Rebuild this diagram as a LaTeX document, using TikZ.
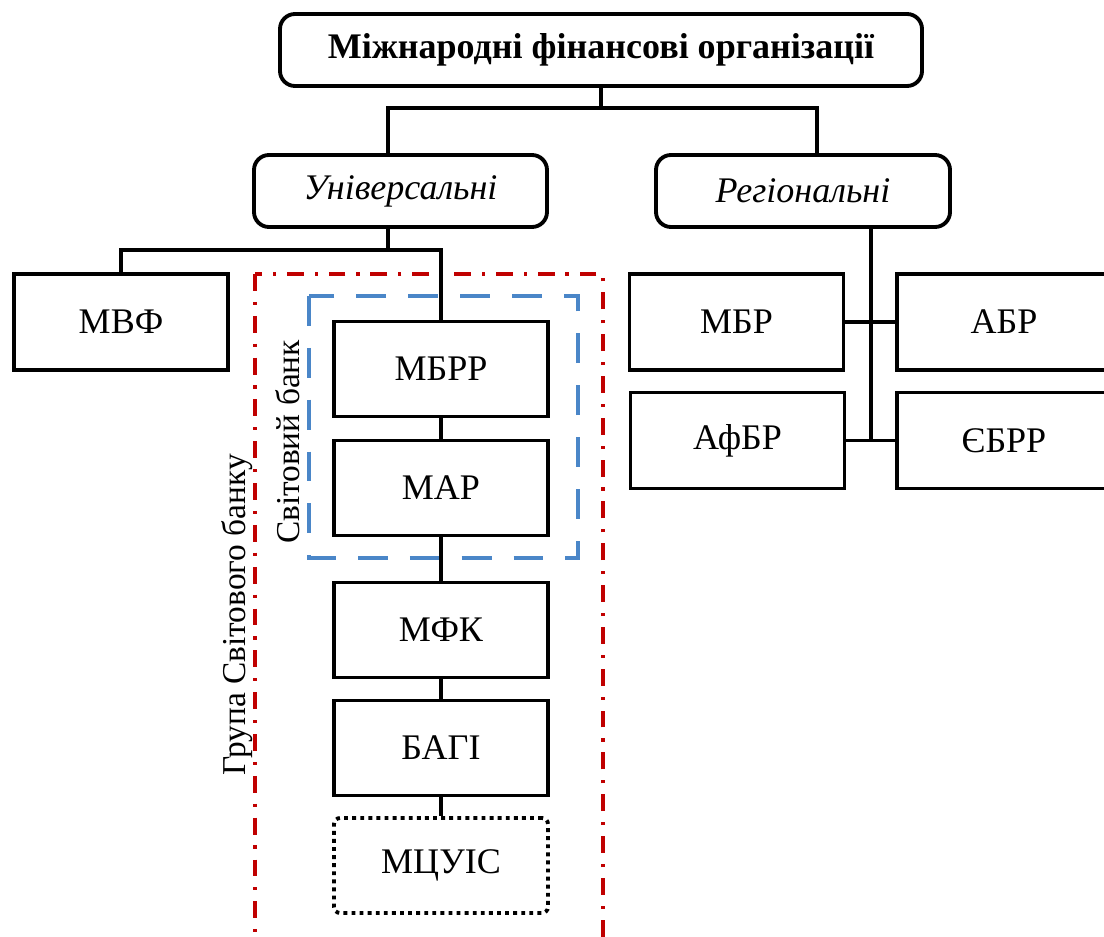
\documentclass[tikz,border=0pt]{standalone}
\usepackage{fontspec}
\setmainfont{Liberation Serif}
\definecolor{wbred}{RGB}{192,0,0}
\definecolor{wbblue}{RGB}{74,134,200}

\begin{document}
\begin{tikzpicture}[line width=2.2pt]
		\tikzstyle{every node} = [font=\fontsize{20.5}{24}\selectfont];
		\tikzstyle{headbox} = [draw, rounded corners=0.3cm, minimum height=1.44cm];
		\tikzstyle{orgbox} = [draw, minimum width=4.28cm, minimum height=1.9cm];
		\useasboundingbox (0,0) rectangle (22.08,-18.74);
		% group frames
		\draw[wbred, line width=1.8pt, dash pattern=on 9.6pt off 6.2pt on 1.8pt off 6.2pt] (5.1,-5.48) rectangle (12.06,-19.5);
		\draw[wbblue, line width=2.8pt, dash pattern=on 17pt off 12.5pt] (6.18,-5.92) rectangle (11.56,-11.16);
		% top levels
		\node[headbox, minimum width=12.84cm, font=\fontsize{20.5}{24}\selectfont\bfseries] (top) at (12.02,-1.0) {Міжнародні фінансові організації};
		\node[headbox, minimum width=5.86cm] (univ) at (8.01,-3.82) {\itshape Універсальні};
		\node[headbox, minimum width=5.88cm] (reg) at (16.06,-3.82) {\itshape Регіональні};
		% universal
		\node[orgbox, minimum height=1.92cm] (imf) at (2.42,-6.44) {МВФ};
		\node[orgbox] (ibrd) at (8.82,-7.38) {МБРР};
		\node[orgbox] (ida) at (8.82,-9.76) {МАР};
		\node[orgbox] (ifc) at (8.82,-12.6) {МФК};
		\node[orgbox] (miga) at (8.82,-14.96) {БАГІ};
		\node[orgbox, rounded corners=0.12cm, dash pattern=on 2.2pt off 2.4pt] (icsid) at (8.82,-17.31) {МЦУІС};
		\node[rotate=90, font=\fontsize{19}{23}\selectfont] (wb) at (5.76,-8.84) {Світовий банк};
		\node[rotate=90, font=\fontsize{19}{23}\selectfont] (wbg) at (4.74,-12.3) {Група Світового банку};
		% regional
		\node[orgbox, minimum height=1.92cm] (iadb) at (14.73,-6.44) {МБР};
		\node[orgbox, minimum height=1.92cm] (adb) at (20.08,-6.44) {АБР};
		\node[orgbox, minimum height=1.92cm] (afdb) at (14.75,-8.81) {АфБР};
		\node[orgbox, minimum height=1.92cm] (ebrd) at (20.08,-8.81) {ЄБРР};
		% connectors
		\coordinate (tj) at (12.02,-2.16);
		\coordinate (uj) at (7.76,-5.0);
		\coordinate (rj) at (17.42,-8.81);
		\draw (top.south) -- (tj);
		\draw ([xshift=-0.25cm]univ.north) |- (tj) -| ([xshift=0.28cm]reg.north);
		\draw ([xshift=-0.25cm]univ.south) -- (uj);
		\draw (imf.north) |- (uj) -| (ibrd.north);
		\draw (ibrd) -- (ida);
		\draw (ida) -- (ifc);
		\draw (ifc) -- (miga);
		\draw (miga) -- (icsid);
		\draw ([xshift=1.36cm]reg.south) -- (rj);
		\draw (iadb) -- (adb);
		\draw (afdb) -- (ebrd);
	\end{tikzpicture}
\end{document}
